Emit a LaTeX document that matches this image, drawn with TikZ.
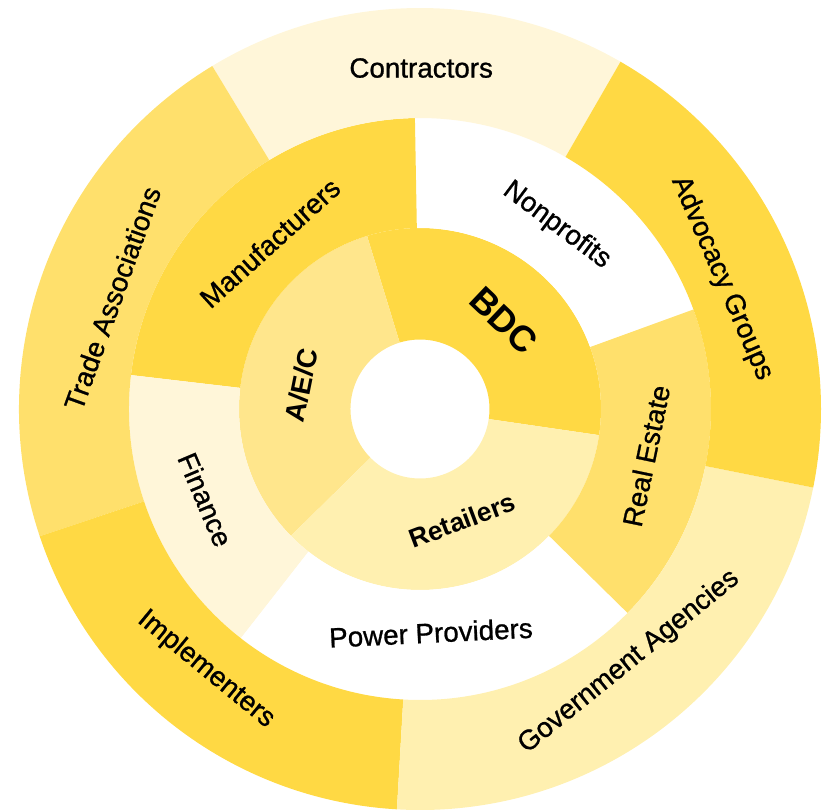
\documentclass[tikz,border=0pt]{standalone}
\usepackage{fontspec}
\setmainfont{Liberation Sans}
\newfontfamily\mediumface{Liberation Sans}[FakeBold=0.9]
\usepackage{tikz}
\usetikzlibrary{calc}

\definecolor{sunDark}{HTML}{FFD944}
\definecolor{sunMid}{HTML}{FFE06C}
\definecolor{sunSoft}{HTML}{FFE68C}
\definecolor{sunPale}{HTML}{FFF0B0}
\definecolor{sunCream}{HTML}{FFF6D9}

% ring piece: inner radius, outer radius, start angle, end angle, colour
\newcommand{\ringseg}[5]{%
  \fill[#5] (#3:#1) arc[start angle=#3, end angle=#4, radius=#1]
    -- (#4:#2) arc[start angle=#4, end angle=#3, radius=#2] -- cycle;}

\begin{document}
\begin{tikzpicture}[
    lbl/.style={font=\mediumface\fontsize{15.8}{18}\selectfont, text=black, inner sep=0pt},
    core/.style={font=\bfseries\fontsize{15}{18}\selectfont, text=black, inner sep=0pt}]
    \useasboundingbox (-8.4,-8.0) rectangle (8.16,8.18);

    % inner ring
    \ringseg{1.39cm}{3.62cm}{-8.3}{107}{sunDark}
    \ringseg{1.39cm}{3.62cm}{107}{224.5}{sunSoft}
    \ringseg{1.39cm}{3.62cm}{224.5}{351.7}{sunPale}

    % middle ring
    \ringseg{3.62cm}{5.82cm}{20}{91}{white}
    \ringseg{3.62cm}{5.82cm}{91}{173.3}{sunDark}
    \ringseg{3.62cm}{5.82cm}{173.3}{232}{sunCream}
    \ringseg{3.62cm}{5.82cm}{232}{315.5}{white}
    \ringseg{3.62cm}{5.82cm}{-44.5}{20}{sunMid}

    % outer ring
    \ringseg{5.82cm}{8.02cm}{60}{121.2}{sunCream}
    \ringseg{5.82cm}{8.02cm}{121.2}{198.5}{sunMid}
    \ringseg{5.82cm}{8.02cm}{198.5}{266.7}{sunDark}
    \ringseg{5.82cm}{8.02cm}{266.7}{348.7}{sunPale}
    \ringseg{5.82cm}{8.02cm}{-11.3}{60}{sunDark}

    \node (bdc) [core, font=\bfseries\fontsize{20.5}{24}\selectfont, rotate=-43.5] at (46.5:2.44) {BDC};
    \node (aec) [core, font=\bfseries\fontsize{15.8}{18}\selectfont, rotate=78.6] at (168.6:2.42) {A/E/C};
    \node (retailers) [core, rotate=20.7] at (-69.3:2.38) {Retailers};

    \node (nonprofits) [lbl, rotate=-36.7] at (53.3:4.58) {Nonprofits};
    \node (manufacturers) [lbl, rotate=42.1] at (132.1:4.48) {Manufacturers};
    \node (finance) [lbl, rotate=-67.1] at (202.9:4.66) {Finance};
    \node (power) [lbl, rotate=2.8] at (-87.2:4.48) {Power Providers};
    \node (realestate) [lbl, rotate=78.3] at (-11.7:4.62) {Real Estate};

    \node (contractors) [lbl] at (89.8:6.82) {Contractors};
    \node (advocacy) [lbl, rotate=-66.6] at (23.4:6.58) {Advocacy Groups};
    \node (trade) [lbl, rotate=70.2] at (160.2:6.54) {Trade Associations};
    \node (implementers) [lbl, rotate=-39.4] at (230.6:6.74) {Implementers};
    \node (government) [lbl, rotate=39] at (-50.4:6.56) {Government Agencies};
\end{tikzpicture}
\end{document}
